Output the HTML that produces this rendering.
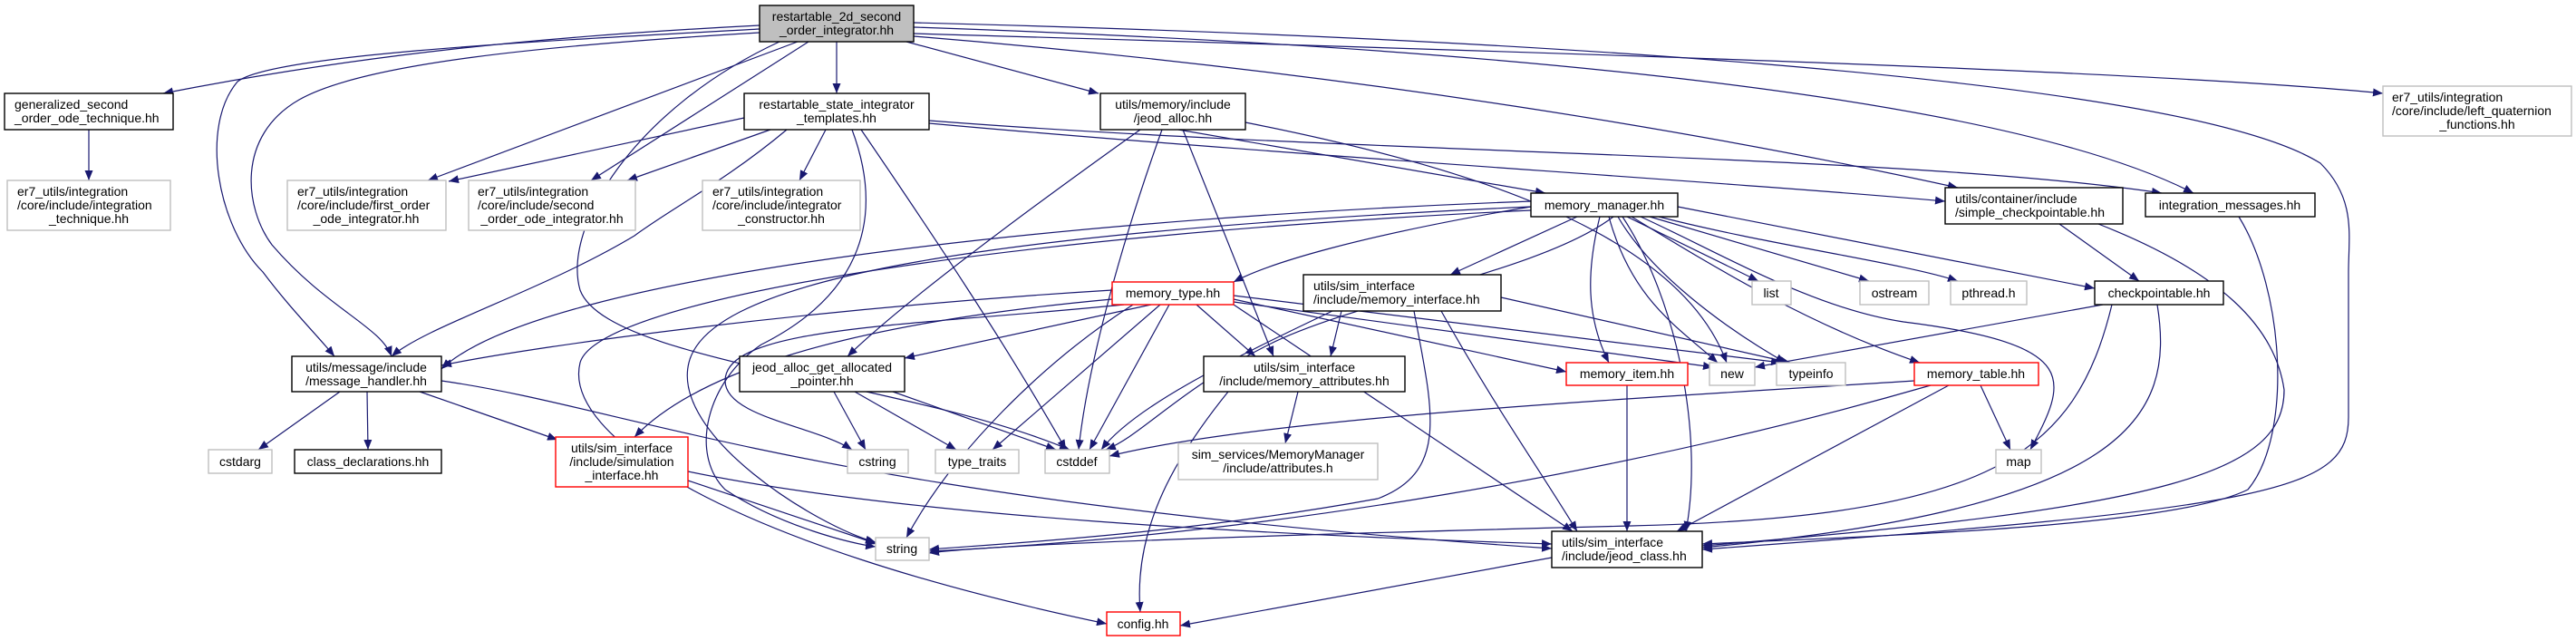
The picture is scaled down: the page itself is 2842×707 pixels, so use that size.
<!DOCTYPE html>
<html><head><meta charset="utf-8"><style>
html,body{margin:0;padding:0;background:#fff;}
svg{display:block;}
text{font-family:"Liberation Sans",sans-serif;font-size:14px;fill:#000;}
.e{fill:none;stroke:#191970;stroke-width:1.2;marker-end:url(#a);}
.b{fill:#fff;stroke:#000;stroke-width:1.4;}
.g{fill:#fff;stroke:#bfbfbf;stroke-width:1.4;}
.r{fill:#fff;stroke:#ff0000;stroke-width:1.4;}
.c{text-anchor:middle;}
</style></head><body>
<svg width="2842" height="707" viewBox="0 0 2842 707" xmlns="http://www.w3.org/2000/svg">
<defs><marker id="a" markerUnits="userSpaceOnUse" markerWidth="12" markerHeight="9" refX="11" refY="4.5" orient="auto"><path d="M0,0 L11,4.5 L0,9 z" fill="#191970"/></marker></defs>
<g>
<!-- root edges -->
<path class="e" d="M838,28 C600,40 400,60 180,103"/>
<path class="e" d="M880,46 L472,199"/>
<path class="e" d="M892,46 L652,199"/>
<path class="e" d="M923,46 L923,103"/>
<path class="e" d="M1000,46 L1212,103"/>
<path class="e" d="M838,32 C600,45 300,60 262,90 C220,140 240,250 290,300 C320,340 350,370 369,393"/>
<path class="e" d="M838,36 C600,50 400,70 330,110 C260,150 270,230 300,270 C360,340 420,360 432,393"/>
<path class="e" d="M860,46 C700,120 620,250 640,320 C670,400 1000,420 1180,496"/>
<path class="e" d="M1008,30 C1600,50 2200,100 2420,213"/>
<path class="e" d="M1008,40 C1500,80 1900,150 2160,207"/>
<path class="e" d="M1008,37 C1800,60 2400,80 2629,103"/>
<path class="e" d="M1008,25 C1600,40 2400,80 2560,180 C2600,220 2591,260 2591,300 L2591,460 C2591,540 2520,560 1878,606"/>
<!-- templates -->
<path class="e" d="M821,130 L495,200"/>
<path class="e" d="M850,143 L692,199"/>
<path class="e" d="M911,143 L882,199"/>
<path class="e" d="M868,143 C800,200 740,230 700,260 C600,320 470,360 432,393"/>
<path class="e" d="M940,143 C980,250 940,330 840,380 C780,420 760,500 800,540 C860,580 940,600 966,603"/>
<path class="e" d="M950,143 C1030,260 1110,380 1176,496"/>
<path class="e" d="M1025,133 C1500,170 2100,170 2385,213"/>
<path class="e" d="M1025,136 C1400,170 1900,200 2146,222"/>
<!-- jeod_alloc -->
<path class="e" d="M1300,143 L1705,213"/>
<path class="e" d="M1258,143 C1150,220 1000,330 935,393"/>
<path class="e" d="M1282,143 C1240,260 1200,400 1190,496"/>
<path class="e" d="M1305,143 L1405,393"/>
<path class="e" d="M1374,135 C1600,180 1850,250 1905,400"/>
<!-- memory_manager -->
<path class="e" d="M1689,228 C1500,260 1400,290 1361,311"/>
<path class="e" d="M1740,239 L1600,303"/>
<path class="e" d="M1795,239 L1940,310"/>
<path class="e" d="M1820,239 L2062,310"/>
<path class="e" d="M1830,239 C1950,270 2100,290 2160,310"/>
<path class="e" d="M1851,228 L2311,318"/>
<path class="e" d="M1765,239 C1750,300 1750,350 1775,400"/>
<path class="e" d="M1775,239 C1800,330 1850,360 1895,400"/>
<path class="e" d="M1785,239 C1820,300 1900,360 1970,400"/>
<path class="e" d="M1810,239 C1900,280 2000,340 2100,355 C2300,380 2280,420 2240,496"/>
<path class="e" d="M1800,239 C1900,300 2000,360 2118,400"/>
<path class="e" d="M1780,239 C1700,300 1500,330 1400,380 C1300,430 1260,480 1220,496"/>
<path class="e" d="M1790,239 C1850,330 1880,480 1860,586"/>
<path class="e" d="M1689,222 C1200,240 600,300 487,407"/>
<path class="e" d="M1689,228 C1000,260 780,320 760,400 C740,480 900,580 966,598"/>
<path class="e" d="M1689,232 C1100,260 660,330 640,400 C620,480 800,600 1221,688"/>
<!-- memory_type -->
<path class="e" d="M1227,320 C900,340 600,380 487,403"/>
<path class="e" d="M1270,336 L998,395"/>
<path class="e" d="M1280,336 L1095,496"/>
<path class="e" d="M1290,336 L1202,496"/>
<path class="e" d="M1240,336 C1000,360 800,360 800,420 C800,460 900,470 940,496"/>
<path class="e" d="M1320,336 L1385,393"/>
<path class="e" d="M1361,330 L1728,410"/>
<path class="e" d="M1361,326 L1965,400"/>
<path class="e" d="M1361,333 L1890,405"/>
<path class="e" d="M1227,330 C900,360 760,420 700,482"/>
<path class="e" d="M1361,336 L1735,586"/>
<path class="e" d="M1250,336 C1150,400 1050,500 1000,593"/>
<!-- memory_interface -->
<path class="e" d="M1480,343 L1468,393"/>
<path class="e" d="M1470,343 C1350,400 1250,450 1215,496"/>
<path class="e" d="M1656,328 L1975,400"/>
<path class="e" d="M1590,343 C1650,450 1700,520 1740,586"/>
<path class="e" d="M1560,343 C1580,450 1600,520 1520,550 C1300,590 1100,600 1025,606"/>
<path class="e" d="M1432,432 L1418,489"/>
<path class="e" d="M1355,432 C1300,500 1250,580 1258,675"/>
<!-- message handler -->
<path class="e" d="M375,432 L285,496"/>
<path class="e" d="M405,432 L406,496"/>
<path class="e" d="M463,432 L615,485"/>
<path class="e" d="M487,420 C700,450 900,550 1712,605"/>
<path class="e" d="M759,530 L968,600"/>
<path class="e" d="M759,520 C1000,570 1400,590 1712,600"/>
<!-- jag -->
<path class="e" d="M920,432 L955,496"/>
<path class="e" d="M943,432 L1055,496"/>
<path class="e" d="M985,432 L1165,496"/>
<!-- lower right -->
<path class="e" d="M1795,425 L1795,586"/>
<path class="e" d="M2185,425 L2218,496"/>
<path class="e" d="M2112,420 C1800,440 1400,460 1224,503"/>
<path class="e" d="M2130,425 C1800,520 1400,590 1025,608"/>
<path class="e" d="M2150,425 L1850,586"/>
<path class="e" d="M2320,336 L1936,405"/>
<path class="e" d="M2330,336 C2290,500 2200,570 1800,580 C1400,590 1100,600 1025,610"/>
<path class="e" d="M2380,336 C2400,460 2350,560 1878,604"/>
<path class="e" d="M2272,247 L2360,310"/>
<path class="e" d="M2315,247 C2450,300 2510,360 2520,430 C2520,520 2400,560 1878,602"/>
<path class="e" d="M2470,239 C2520,320 2530,480 2480,540 C2400,580 2100,590 1878,600"/>
<path class="e" d="M1712,615 L1302,690"/>
<path class="e" d="M98,143 L98,199"/>
</g>
<g>
<rect x="838" y="6" width="170" height="40" fill="#bfbfbf" stroke="#000" stroke-width="1.4"/>
<text class="c" x="923" y="23">restartable_2d_second</text><text class="c" x="923" y="38">_order_integrator.hh</text>

<rect class="b" x="5" y="103" width="186" height="40"/>
<text x="16" y="120">generalized_second</text><text x="16" y="135">_order_ode_technique.hh</text>

<rect class="g" x="8" y="199" width="180" height="55"/>
<text x="19" y="216">er7_utils/integration</text><text x="19" y="231">/core/include/integration</text><text class="c" x="98" y="246">_technique.hh</text>

<rect class="g" x="317" y="199" width="175" height="55"/>
<text x="328" y="216">er7_utils/integration</text><text x="328" y="231">/core/include/first_order</text><text class="c" x="404" y="246">_ode_integrator.hh</text>

<rect class="g" x="517" y="199" width="184" height="55"/>
<text x="527" y="216">er7_utils/integration</text><text x="527" y="231">/core/include/second</text><text class="c" x="609" y="246">_order_ode_integrator.hh</text>

<rect class="b" x="821" y="103" width="204" height="40"/>
<text class="c" x="923" y="120">restartable_state_integrator</text><text class="c" x="923" y="135">_templates.hh</text>

<rect class="g" x="775" y="199" width="174" height="55"/>
<text x="786" y="216">er7_utils/integration</text><text x="786" y="231">/core/include/integrator</text><text class="c" x="862" y="246">_constructor.hh</text>

<rect class="b" x="1214" y="103" width="160" height="40"/>
<text class="c" x="1294" y="120">utils/memory/include</text><text class="c" x="1294" y="135">/jeod_alloc.hh</text>

<rect class="b" x="1689" y="213" width="162" height="26"/>
<text class="c" x="1770" y="231">memory_manager.hh</text>

<rect class="b" x="1438" y="303" width="218" height="40"/>
<text x="1449" y="320">utils/sim_interface</text><text x="1449" y="335">/include/memory_interface.hh</text>

<rect class="r" x="1227" y="311" width="134" height="25"/>
<text class="c" x="1294" y="328">memory_type.hh</text>

<rect class="b" x="322" y="393" width="165" height="39"/>
<text class="c" x="404" y="410">utils/message/include</text><text class="c" x="404" y="425">/message_handler.hh</text>

<rect class="g" x="230" y="496" width="70" height="26"/>
<text class="c" x="265" y="514">cstdarg</text>

<rect class="b" x="325" y="496" width="162" height="26"/>
<text class="c" x="406" y="514">class_declarations.hh</text>

<rect class="r" x="613" y="482" width="146" height="55"/>
<text class="c" x="686" y="499">utils/sim_interface</text><text class="c" x="686" y="514">/include/simulation</text><text class="c" x="686" y="529">_interface.hh</text>

<rect class="b" x="816" y="393" width="182" height="39"/>
<text class="c" x="907" y="410">jeod_alloc_get_allocated</text><text class="c" x="907" y="425">_pointer.hh</text>

<rect class="g" x="935" y="496" width="67" height="26"/>
<text class="c" x="968" y="514">cstring</text>
<rect class="g" x="1032" y="496" width="92" height="26"/>
<text class="c" x="1078" y="514">type_traits</text>
<rect class="g" x="1153" y="496" width="71" height="26"/>
<text class="c" x="1188" y="514">cstddef</text>

<rect class="g" x="1300" y="489" width="220" height="40"/>
<text class="c" x="1410" y="506">sim_services/MemoryManager</text><text class="c" x="1410" y="521">/include/attributes.h</text>

<rect class="g" x="966" y="593" width="59" height="25"/>
<text class="c" x="995" y="610">string</text>

<rect class="r" x="1221" y="675" width="81" height="26"/>
<text class="c" x="1261" y="693">config.hh</text>

<rect class="b" x="1328" y="393" width="222" height="39"/>
<text class="c" x="1439" y="410">utils/sim_interface</text><text class="c" x="1439" y="425">/include/memory_attributes.hh</text>

<rect class="r" x="1728" y="400" width="134" height="25"/>
<text class="c" x="1795" y="417">memory_item.hh</text>
<rect class="g" x="1886" y="400" width="50" height="25"/>
<text class="c" x="1911" y="417">new</text>
<rect class="g" x="1960" y="400" width="76" height="25"/>
<text class="c" x="1998" y="417">typeinfo</text>
<rect class="r" x="2112" y="400" width="137" height="25"/>
<text class="c" x="2180" y="417">memory_table.hh</text>
<rect class="g" x="2202" y="496" width="50" height="26"/>
<text class="c" x="2227" y="514">map</text>

<rect class="g" x="1933" y="310" width="43" height="26"/>
<text class="c" x="1954" y="328">list</text>
<rect class="g" x="2052" y="310" width="76" height="26"/>
<text class="c" x="2090" y="328">ostream</text>
<rect class="g" x="2152" y="310" width="84" height="26"/>
<text class="c" x="2194" y="328">pthread.h</text>
<rect class="b" x="2311" y="310" width="142" height="26"/>
<text class="c" x="2382" y="328">checkpointable.hh</text>

<rect class="b" x="2146" y="207" width="196" height="40"/>
<text x="2157" y="224">utils/container/include</text><text x="2157" y="239">/simple_checkpointable.hh</text>

<rect class="b" x="2367" y="213" width="187" height="26"/>
<text class="c" x="2460" y="231">integration_messages.hh</text>

<rect class="g" x="2629" y="95" width="208" height="55"/>
<text x="2639" y="112">er7_utils/integration</text><text x="2639" y="127">/core/include/left_quaternion</text><text class="c" x="2733" y="142">_functions.hh</text>

<rect class="b" x="1712" y="586" width="166" height="40"/>
<text x="1723" y="603">utils/sim_interface</text><text x="1723" y="618">/include/jeod_class.hh</text>
</g>
</svg>
</body></html>
